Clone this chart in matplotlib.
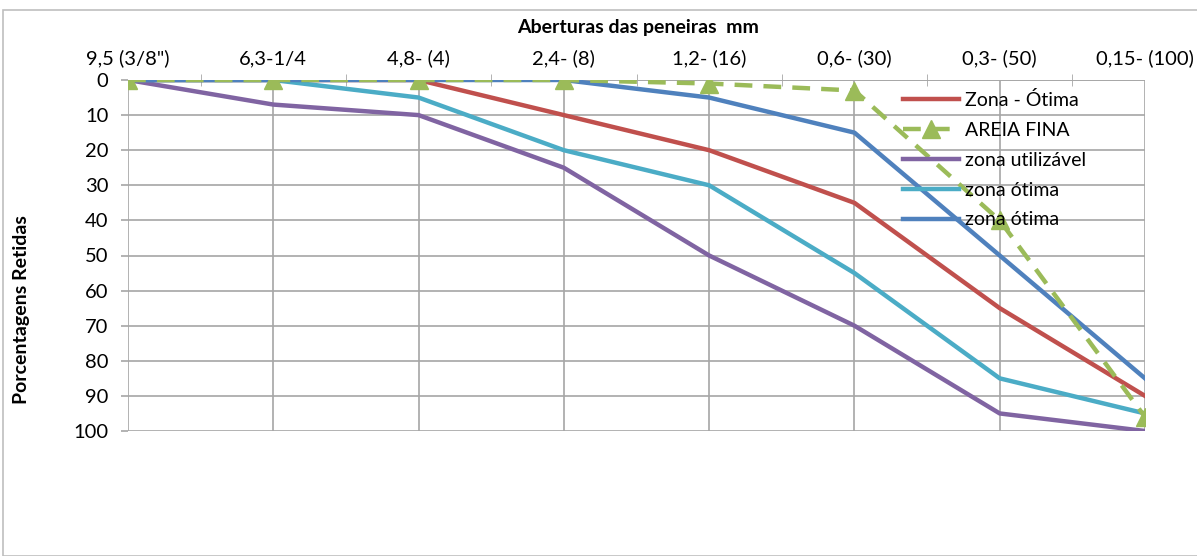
import matplotlib
matplotlib.use('Agg')
import matplotlib.pyplot as plt
from matplotlib.patches import Rectangle

plt.rcParams['font.family'] = ['Lato', 'DejaVu Sans']

# ── Data ──────────────────────────────────────────────────────
sieves = ['9,5 (3/8")', '6,3-1/4', '4,8- (4)', '2,4- (8)', '1,2- (16)',
          '0,6- (30)', '0,3- (50)', '0,15- (100)']
zona_otima_red = [0, 0, 0, 10, 20, 35, 65, 90]
areia_fina     = [0, 0, 0, 0, 1, 3, 40, 96]
zona_utilizavel = [0, 7, 10, 25, 50, 70, 95, 100]
zona_otima_cyan = [0, 0, 5, 20, 30, 55, 85, 95]
zona_otima_blue = [0, 0, 0, 0, 5, 15, 50, 85]
yticks = list(range(0, 101, 10))

RED, GREEN, PURPLE, CYAN, BLUE = '#C0504D', '#9BBB59', '#8064A2', '#4BACC6', '#4F81BD'
GRID = '#a6a6a6'
FS = 14.5

fig = plt.figure(figsize=(11.97, 5.56), dpi=100)
ax = fig.add_axes([128/1197, 1-431/556, (1145-128)/1197, (431-80)/556])

# outer chart frame
fig.patches.append(Rectangle((3/1197, 0.0), 1.2, 1-10/556, transform=fig.transFigure,
                             fill=False, edgecolor='#bfbfbf', linewidth=1.2))

x = range(len(sieves))
ax.plot(x, zona_otima_red, color=RED, lw=3.2, label='Zona - Ótima', zorder=3)
ax.plot(x, areia_fina, color=GREEN, lw=3.2, ls=(0, (4, 2.5)), marker='^',
        markersize=13, label='AREIA FINA', zorder=4)
ax.plot(x, zona_utilizavel, color=PURPLE, lw=3.2, label='zona utilizável', zorder=3)
ax.plot(x, zona_otima_cyan, color=CYAN, lw=3.2, label='zona ótima', zorder=3)
ax.plot(x, zona_otima_blue, color=BLUE, lw=3.2, label='zona ótima', zorder=3)

ax.set_xlim(0, len(sieves) - 1)
ax.set_ylim(100, 0)
ax.set_yticks(yticks)
ax.tick_params(axis='y', length=5, color=GRID, width=1.2, labelsize=FS, pad=9)
ax.xaxis.tick_top()
ax.set_xticks(list(x))
ax.set_xticklabels(sieves, fontsize=FS)
ax.set_xticks([i + 0.5 for i in range(len(sieves) - 1)], minor=True)
ax.tick_params(axis='x', which='major', length=0, pad=9)
ax.tick_params(axis='x', which='minor', length=8, direction='inout', color=GRID)

ax.grid(True, color=GRID, lw=1.2)
for s in ax.spines.values():
    s.set_visible(False)
ax.axhline(0, color=GRID, lw=1.2, zorder=1)

fig.text(638/1197, 1-28/556, 'Aberturas das peneiras  mm', ha='center', va='center',
         fontsize=14, fontweight='bold')
fig.text(22/1197, 1-310/556, 'Porcentagens Retidas', ha='center', va='center',
         rotation=90, fontsize=14, fontweight='bold')

leg = ax.legend(loc='upper left', bbox_to_anchor=(903/1197, 1-91/556),
                bbox_transform=fig.transFigure, frameon=False, fontsize=14,
                handlelength=2.9, handletextpad=0.3, labelspacing=0.66, borderaxespad=0,
                borderpad=0)

fig.savefig('out.png', dpi=100, facecolor='white')
